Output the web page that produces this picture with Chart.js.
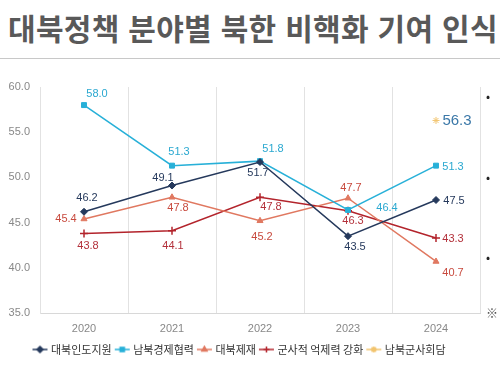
<!DOCTYPE html>
<html lang="ko">
<head>
<meta charset="UTF-8" />
<title>대북정책 분야별 북한 비핵화 기여 인식</title>
<script src="https://cdn.jsdelivr.net/npm/chart.js"></script>
<style>
  body { margin: 0; background: #fff; width: 500px; height: 365px; overflow: hidden; position: relative; font-family: "Noto Sans CJK KR", "Noto Sans", sans-serif; }
  .title { position: absolute; left: 8px; top: 5px; font-size: 30px; font-weight: 700; color: #595959; white-space: nowrap; letter-spacing: 0.3px; }
  .rule { position: absolute; left: 0; top: 58px; width: 500px; height: 1px; background: #c8c8c8; }
  .wrap { position: absolute; left: 0; top: 62px; width: 500px; height: 303px; }
</style>
</head>
<body>
<div class="title">대북정책 분야별 북한 비핵화 기여 인식</div>
<div class="rule"></div>
<div class="wrap"><canvas id="chart" width="500" height="303"></canvas></div>

<script>
const years = ['2020', '2021', '2022', '2023', '2024'];
const seriesNames = ['대북인도지원', '남북경제협력', '대북제재', '군사적 억제력 강화', '남북군사회담'];
const humanitarian = [46.2, 49.1, 51.7, 43.5, 47.5];
const economic = [58.0, 51.3, 51.8, 46.4, 51.3];
const sanctions = [45.4, 47.8, 45.2, 47.7, 40.7];
const deterrence = [43.8, 44.1, 47.8, 46.3, 43.3];
const militaryTalks = [null, null, null, null, 56.3];
const yTicks = [35, 40, 45, 50, 55, 60];

// styling kept apart from the values
const lineColors = ['#25395c', '#27b0d8', '#e07860', '#b3242c', '#f2c46e'];
const labelColors = ['#25395c', '#2aa8d0', '#c84a3e', '#b3303a', '#3b78a8'];
const markers = ['rectRot', 'rect', 'triangle', 'cross', 'star'];
// label offset from its point, in px
const labelOffsets = [
  [[3, -14], [-9, -8], [-2, 11], [7, 11], [18, 1]],
  [[13, -11], [7, -14], [13, -12], [39, -2], [17, 1]],
  [[-18, 0], [6, 11], [2, 16], [3, -10], [17, 11]],
  [[4, 13], [1, 15], [11, 10], [5, 10], [17, 1]],
  [null, null, null, null, [21, 0]]
];

function legendIcon(color, style) {
  const c = document.createElement('canvas');
  c.width = 17; c.height = 10;
  const g = c.getContext('2d');
  g.strokeStyle = color; g.fillStyle = color; g.lineWidth = 1.5;
  g.beginPath(); g.moveTo(1, 5); g.lineTo(16, 5); g.stroke();
  Chart.helpers.drawPoint(g, { pointStyle: style, radius: 3, borderWidth: 1 }, 8.5, 5);
  g.fill();
  return c;
}

const valueLabels = {
  id: 'valueLabels',
  afterDatasetsDraw(chart) {
    const ctx = chart.ctx;
    ctx.save();
    ctx.textAlign = 'center';
    ctx.textBaseline = 'middle';
    chart.data.datasets.forEach((ds, i) => {
      const meta = chart.getDatasetMeta(i);
      meta.data.forEach((pt, j) => {
        const v = ds.data[j];
        if (v === null) return;
        const off = labelOffsets[i][j];
        ctx.fillStyle = labelColors[i];
        ctx.font = i === 4 ? '15px "Liberation Sans", Arial, sans-serif' : '11px "Liberation Sans", Arial, sans-serif';
        ctx.fillText(v.toFixed(1), pt.x + off[0], pt.y + off[1]);
      });
    });
    // cut-off side notes at the right edge
    ctx.fillStyle = '#222';
    ctx.font = '12px "Noto Sans CJK KR", sans-serif';
    [34, 115, 195].forEach(y => ctx.fillText('•', 488, y));
    ctx.fillStyle = '#555';
    ctx.fillText('※', 492, 251);
    ctx.restore();
  }
};

const sets = [humanitarian, economic, sanctions, deterrence, militaryTalks];

new Chart(document.getElementById('chart'), {
  type: 'line',
  data: {
    labels: years,
    datasets: sets.map((d, i) => ({
      label: seriesNames[i],
      data: d,
      borderColor: lineColors[i],
      backgroundColor: lineColors[i],
      borderWidth: 1.5,
      pointStyle: markers[i],
      pointRadius: i === 3 ? 4 : 3.5,
      pointBorderWidth: i === 3 ? 1.5 : 1,
      showLine: i !== 4,
      tension: 0
    }))
  },
  options: {
    responsive: false,
    animation: false,
    layout: { padding: { top: 25, right: 20, left: 0, bottom: 0 } },
    scales: {
      x: {
        offset: true,
        afterFit: s => { s.height = 26; },
        grid: { offset: true, color: '#e2e2e2', drawTicks: false },
        border: { color: '#d8d8d8' },
        ticks: { color: '#888', font: { size: 11, family: '"Liberation Sans", Arial, sans-serif' }, padding: 9 }
      },
      y: {
        min: 35, max: 60,
        afterBuildTicks: s => { s.ticks = yTicks.map(v => ({ value: v })); },
        afterFit: s => { s.width = 40; },
        grid: { display: false, drawTicks: false },
        border: { color: '#e2e2e2' },
        ticks: { color: '#888', font: { size: 11, family: '"Liberation Sans", Arial, sans-serif' }, padding: 10, callback: v => v.toFixed(1) }
      }
    },
    plugins: {
      tooltip: { enabled: false },
      legend: {
        position: 'bottom',
        labels: {
          usePointStyle: true,
          color: '#333',
          padding: 5,
          font: { size: 11, family: '"Noto Sans CJK KR", sans-serif' },
          generateLabels: chart => chart.data.datasets.map((ds, i) => ({
            text: ds.label,
            fontColor: '#333',
            pointStyle: legendIcon(lineColors[i], markers[i]),
            strokeStyle: lineColors[i],
            fillStyle: lineColors[i],
            lineWidth: 0,
            datasetIndex: i
          }))
        }
      }
    }
  },
  plugins: [valueLabels]
});
</script>
</body>
</html>
